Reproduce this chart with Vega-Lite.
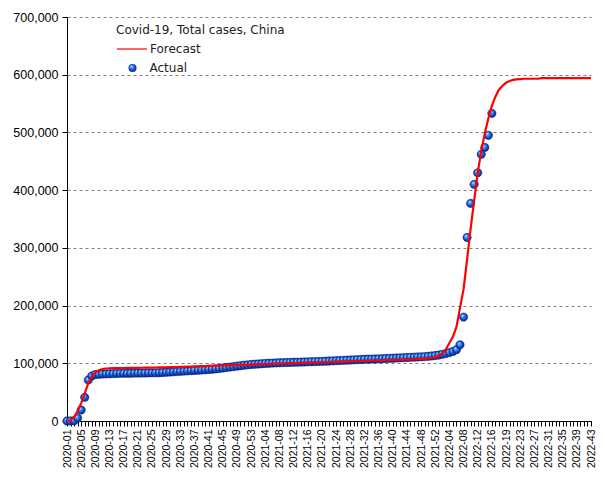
{
  "$schema": "https://vega.github.io/schema/vega-lite/v6.json",
  "autosize": "none",
  "width": 524,
  "height": 404,
  "padding": {"left": 67, "top": 17, "right": 14, "bottom": 59},
  "background": "white",
  "config": {"view": {"stroke": null}},
  "datasets": {
    "actual": [
      {"w":"2020-01","v":0},{"w":"2020-02","v":100},{"w":"2020-03","v":500},{"w":"2020-04","v":5000},{"w":"2020-05","v":19000},{"w":"2020-06","v":41000},{"w":"2020-07","v":71000},{"w":"2020-08","v":78000},{"w":"2020-09","v":80500},{"w":"2020-10","v":81000},
      {"w":"2020-11","v":81300},{"w":"2020-12","v":81600},{"w":"2020-13","v":81900},{"w":"2020-14","v":82100},{"w":"2020-15","v":82300},{"w":"2020-16","v":82500},{"w":"2020-17","v":82600},{"w":"2020-18","v":82700},{"w":"2020-19","v":82800},{"w":"2020-20","v":82900},
      {"w":"2020-21","v":83000},{"w":"2020-22","v":83100},{"w":"2020-23","v":83200},{"w":"2020-24","v":83300},{"w":"2020-25","v":83400},{"w":"2020-26","v":83500},{"w":"2020-27","v":83700},{"w":"2020-28","v":84000},{"w":"2020-29","v":84400},{"w":"2020-30","v":84800},
      {"w":"2020-31","v":85200},{"w":"2020-32","v":85600},{"w":"2020-33","v":86000},{"w":"2020-34","v":86400},{"w":"2020-35","v":86800},{"w":"2020-36","v":87200},{"w":"2020-37","v":87600},{"w":"2020-38","v":88000},{"w":"2020-39","v":88400},{"w":"2020-40","v":88800},
      {"w":"2020-41","v":89200},{"w":"2020-42","v":89700},{"w":"2020-43","v":90300},{"w":"2020-44","v":91000},{"w":"2020-45","v":91800},{"w":"2020-46","v":92600},{"w":"2020-47","v":93400},{"w":"2020-48","v":94200},{"w":"2020-49","v":95000},{"w":"2020-50","v":95800},
      {"w":"2020-51","v":96600},{"w":"2020-52","v":97300},{"w":"2020-53","v":97900},{"w":"2021-01","v":98400},{"w":"2021-02","v":98800},{"w":"2021-03","v":99200},{"w":"2021-04","v":99600},{"w":"2021-05","v":100000},{"w":"2021-06","v":100300},{"w":"2021-07","v":100600},
      {"w":"2021-08","v":100900},{"w":"2021-09","v":101100},{"w":"2021-10","v":101300},{"w":"2021-11","v":101500},{"w":"2021-12","v":101700},{"w":"2021-13","v":101900},{"w":"2021-14","v":102100},{"w":"2021-15","v":102300},{"w":"2021-16","v":102500},{"w":"2021-17","v":102700},
      {"w":"2021-18","v":102900},{"w":"2021-19","v":103100},{"w":"2021-20","v":103300},{"w":"2021-21","v":103600},{"w":"2021-22","v":103900},{"w":"2021-23","v":104200},{"w":"2021-24","v":104500},{"w":"2021-25","v":104800},{"w":"2021-26","v":105100},{"w":"2021-27","v":105400},
      {"w":"2021-28","v":105700},{"w":"2021-29","v":106000},{"w":"2021-30","v":106300},{"w":"2021-31","v":106600},{"w":"2021-32","v":106900},{"w":"2021-33","v":107100},{"w":"2021-34","v":107300},{"w":"2021-35","v":107500},{"w":"2021-36","v":107700},{"w":"2021-37","v":107900},
      {"w":"2021-38","v":108200},{"w":"2021-39","v":108500},{"w":"2021-40","v":108800},{"w":"2021-41","v":109100},{"w":"2021-42","v":109400},{"w":"2021-43","v":109700},{"w":"2021-44","v":110000},{"w":"2021-45","v":110300},{"w":"2021-46","v":110600},{"w":"2021-47","v":110900},
      {"w":"2021-48","v":111200},{"w":"2021-49","v":111600},{"w":"2021-50","v":112100},{"w":"2021-51","v":112700},{"w":"2021-52","v":113400},{"w":"2022-01","v":114300},{"w":"2022-02","v":115500},{"w":"2022-03","v":117000},{"w":"2022-04","v":118500},{"w":"2022-05","v":120500},
      {"w":"2022-06","v":123500},{"w":"2022-07","v":132000},{"w":"2022-08","v":180000},{"w":"2022-09","v":318000},{"w":"2022-10","v":377000},{"w":"2022-11","v":410000},{"w":"2022-12","v":430000},{"w":"2022-13","v":462000},{"w":"2022-14","v":474000},{"w":"2022-15","v":495000},
      {"w":"2022-16","v":533000}
    ],
    "forecast": [
      {"w":"2020-01","v":0},{"w":"2020-02","v":1500},{"w":"2020-03","v":7000},{"w":"2020-04","v":17000},{"w":"2020-05","v":31000},{"w":"2020-06","v":48000},{"w":"2020-07","v":65000},{"w":"2020-08","v":77000},{"w":"2020-09","v":84000},{"w":"2020-10","v":88000},
      {"w":"2020-11","v":90000},{"w":"2020-12","v":91000},{"w":"2020-13","v":91400},{"w":"2020-14","v":91500},{"w":"2020-15","v":91600},{"w":"2020-16","v":91700},{"w":"2020-17","v":91800},{"w":"2020-18","v":91900},{"w":"2020-19","v":92000},{"w":"2020-20","v":92100},
      {"w":"2020-21","v":92200},{"w":"2020-22","v":92300},{"w":"2020-23","v":92400},{"w":"2020-24","v":92500},{"w":"2020-25","v":92600},{"w":"2020-26","v":92700},{"w":"2020-27","v":92800},{"w":"2020-28","v":92900},{"w":"2020-29","v":93000},{"w":"2020-30","v":93200},
      {"w":"2020-31","v":93400},{"w":"2020-32","v":93600},{"w":"2020-33","v":93800},{"w":"2020-34","v":94000},{"w":"2020-35","v":94200},{"w":"2020-36","v":94400},{"w":"2020-37","v":94600},{"w":"2020-38","v":94800},{"w":"2020-39","v":95000},{"w":"2020-40","v":95200},
      {"w":"2020-41","v":95400},{"w":"2020-42","v":95600},{"w":"2020-43","v":95800},{"w":"2020-44","v":96000},{"w":"2020-45","v":96200},{"w":"2020-46","v":96400},{"w":"2020-47","v":96600},{"w":"2020-48","v":96800},{"w":"2020-49","v":97000},{"w":"2020-50","v":97200},
      {"w":"2020-51","v":97400},{"w":"2020-52","v":97600},{"w":"2020-53","v":97800},{"w":"2021-01","v":98000},{"w":"2021-02","v":98200},{"w":"2021-03","v":98400},{"w":"2021-04","v":98600},{"w":"2021-05","v":98800},{"w":"2021-06","v":99000},{"w":"2021-07","v":99200},
      {"w":"2021-08","v":99400},{"w":"2021-09","v":99600},{"w":"2021-10","v":99800},{"w":"2021-11","v":100000},{"w":"2021-12","v":100200},{"w":"2021-13","v":100400},{"w":"2021-14","v":100600},{"w":"2021-15","v":100800},{"w":"2021-16","v":101000},{"w":"2021-17","v":101200},
      {"w":"2021-18","v":101400},{"w":"2021-19","v":101600},{"w":"2021-20","v":101800},{"w":"2021-21","v":102000},{"w":"2021-22","v":102200},{"w":"2021-23","v":102400},{"w":"2021-24","v":102600},{"w":"2021-25","v":102800},{"w":"2021-26","v":103000},{"w":"2021-27","v":103200},
      {"w":"2021-28","v":103400},{"w":"2021-29","v":103600},{"w":"2021-30","v":103800},{"w":"2021-31","v":104000},{"w":"2021-32","v":104200},{"w":"2021-33","v":104400},{"w":"2021-34","v":104600},{"w":"2021-35","v":104800},{"w":"2021-36","v":105000},{"w":"2021-37","v":105200},
      {"w":"2021-38","v":105400},{"w":"2021-39","v":105600},{"w":"2021-40","v":105800},{"w":"2021-41","v":106000},{"w":"2021-42","v":106200},{"w":"2021-43","v":106400},{"w":"2021-44","v":106600},{"w":"2021-45","v":106800},{"w":"2021-46","v":107000},{"w":"2021-47","v":107300},
      {"w":"2021-48","v":107600},{"w":"2021-49","v":108000},{"w":"2021-50","v":108600},{"w":"2021-51","v":109500},{"w":"2021-52","v":111000},{"w":"2022-01","v":113000},{"w":"2022-02","v":117000},{"w":"2022-03","v":124000},{"w":"2022-04","v":135000},{"w":"2022-05","v":146000},
      {"w":"2022-06","v":163000},{"w":"2022-07","v":196000},{"w":"2022-08","v":228000},{"w":"2022-09","v":280000},{"w":"2022-10","v":333000},{"w":"2022-11","v":382000},{"w":"2022-12","v":430000},{"w":"2022-13","v":468000},{"w":"2022-14","v":498000},{"w":"2022-15","v":524000},
      {"w":"2022-16","v":546000},{"w":"2022-17","v":562000},{"w":"2022-18","v":574000},{"w":"2022-18b","v":581000},{"w":"2022-19","v":586000},{"w":"2022-20","v":589000},{"w":"2022-21","v":591000},{"w":"2022-22","v":592000},{"w":"2022-23","v":592500},{"w":"2022-24","v":593000},
      {"w":"2022-25","v":593000},{"w":"2022-26","v":593000},{"w":"2022-27","v":593000},{"w":"2022-28","v":593000},{"w":"2022-29","v":594000},{"w":"2022-30","v":594000},{"w":"2022-31","v":594000},{"w":"2022-32","v":594000},{"w":"2022-33","v":594000},{"w":"2022-34","v":594000},
      {"w":"2022-35","v":594000},{"w":"2022-36","v":594000},{"w":"2022-37","v":594000},{"w":"2022-38","v":594000},{"w":"2022-39","v":594000},{"w":"2022-40","v":594000},{"w":"2022-41","v":594000},{"w":"2022-42","v":594000},{"w":"2022-43","v":594000}
    ]
  },
  "encoding": {
    "x": {
      "field": "w", "type": "ordinal",
      "scale": {
        "type": "point", "padding": 0,
        "domain": ["2020-01","2020-02","2020-03","2020-04","2020-05","2020-06","2020-07","2020-08","2020-09","2020-10","2020-11","2020-12","2020-13","2020-14","2020-15","2020-16","2020-17","2020-18","2020-19","2020-20","2020-21","2020-22","2020-23","2020-24","2020-25","2020-26","2020-27","2020-28","2020-29","2020-30","2020-31","2020-32","2020-33","2020-34","2020-35","2020-36","2020-37","2020-38","2020-39","2020-40","2020-41","2020-42","2020-43","2020-44","2020-45","2020-46","2020-47","2020-48","2020-49","2020-50","2020-51","2020-52","2020-53",
          "2021-01","2021-02","2021-03","2021-04","2021-05","2021-06","2021-07","2021-08","2021-09","2021-10","2021-11","2021-12","2021-13","2021-14","2021-15","2021-16","2021-17","2021-18","2021-19","2021-20","2021-21","2021-22","2021-23","2021-24","2021-25","2021-26","2021-27","2021-28","2021-29","2021-30","2021-31","2021-32","2021-33","2021-34","2021-35","2021-36","2021-37","2021-38","2021-39","2021-40","2021-41","2021-42","2021-43","2021-44","2021-45","2021-46","2021-47","2021-48","2021-49","2021-50","2021-51","2021-52",
          "2022-01","2022-02","2022-03","2022-04","2022-05","2022-06","2022-07","2022-08","2022-09","2022-10","2022-11","2022-12","2022-13","2022-14","2022-15","2022-16","2022-17","2022-18","2022-18b","2022-19","2022-20","2022-21","2022-22","2022-23","2022-24","2022-25","2022-26","2022-27","2022-28","2022-29","2022-30","2022-31","2022-32","2022-33","2022-34","2022-35","2022-36","2022-37","2022-38","2022-39","2022-40","2022-41","2022-42","2022-43"]
      },
      "axis": {
        "title": null, "labelAngle": 270,
        "labelExpr": "indexof(domain('x'), datum.value) % 4 === 0 ? datum.label : ''",
        "labelFont": "Liberation Sans", "labelFontSize": 10.5, "labelColor": "black",
        "tickColor": "black", "domainColor": "black", "tickSize": 5, "labelPadding": 3,
        "grid": false, "labelOverlap": false, "labelBound": false
      }
    },
    "y": {
      "field": "v", "type": "quantitative",
      "scale": {"domain": [0, 700000], "nice": false, "zero": true},
      "axis": {
        "title": null, "values": [0,100000,200000,300000,400000,500000,600000,700000], "format": ",d",
        "grid": true, "gridDash": [3,3], "gridColor": "#808080", "gridWidth": 1,
        "labelFont": "Liberation Sans", "labelFontSize": 12.5, "labelColor": "black",
        "tickColor": "black", "domainColor": "black", "tickSize": 5, "labelPadding": 4
      }
    }
  },
  "layer": [
    {
      "data": {"name": "actual"},
      "mark": {
        "type": "point", "filled": true, "size": 70, "opacity": 1, "strokeWidth": 0.5, "stroke": "#0a1a70",
        "fill": {"gradient": "radial", "x1": 0.35, "y1": 0.3, "r1": 0, "x2": 0.5, "y2": 0.5, "r2": 0.55,
          "stops": [{"offset": 0, "color": "#e4faff"}, {"offset": 0.22, "color": "#5ab4ff"}, {"offset": 0.55, "color": "#1a5ce0"}, {"offset": 1, "color": "#0a1a70"}]}
      },
      "encoding": {
        "shape": {
          "datum": "Actual", "type": "nominal",
          "scale": {"domain": ["Actual"], "range": ["circle"]},
          "legend": {
            "orient": "none", "legendX": 59.5, "legendY": 45,
            "title": null,
            "labelFont": "DejaVu Sans", "labelFontSize": 12, "labelColor": "#222", "labelOffset": 11,
            "symbolSize": 64, "symbolStrokeColor": "#0a1a70", "symbolStrokeWidth": 0.5,
            "encode": {
              "symbols": {
                "update": {
                  "fill": {"value": {"gradient": "radial", "x1": 0.35, "y1": 0.3, "r1": 0, "x2": 0.5, "y2": 0.5, "r2": 0.55,
                    "stops": [{"offset": 0, "color": "#e4faff"}, {"offset": 0.22, "color": "#5ab4ff"}, {"offset": 0.55, "color": "#1a5ce0"}, {"offset": 1, "color": "#0a1a70"}]}}
                }
              }
            }
          }
        }
      }
    },
    {
      "data": {"name": "forecast"},
      "mark": {"type": "line", "strokeWidth": 2.2},
      "encoding": {
        "stroke": {
          "datum": "Forecast", "type": "nominal",
          "scale": {"domain": ["Forecast"], "range": ["#ff0000"]},
          "legend": {
            "orient": "none", "legendX": 49, "legendY": 8,
            "title": "Covid-19, Total cases, China",
            "titleFont": "DejaVu Sans", "titleFontSize": 12, "titleFontWeight": "normal", "titleColor": "#222",
            "titlePadding": -4,
            "labelFont": "DejaVu Sans", "labelFontSize": 12, "labelColor": "#222", "labelOffset": 2,
            "symbolType": "stroke", "symbolSize": 900, "symbolStrokeWidth": 1.2, "symbolStrokeColor": "#ff2a00"
          }
        }
      }
    }
  ]
}
